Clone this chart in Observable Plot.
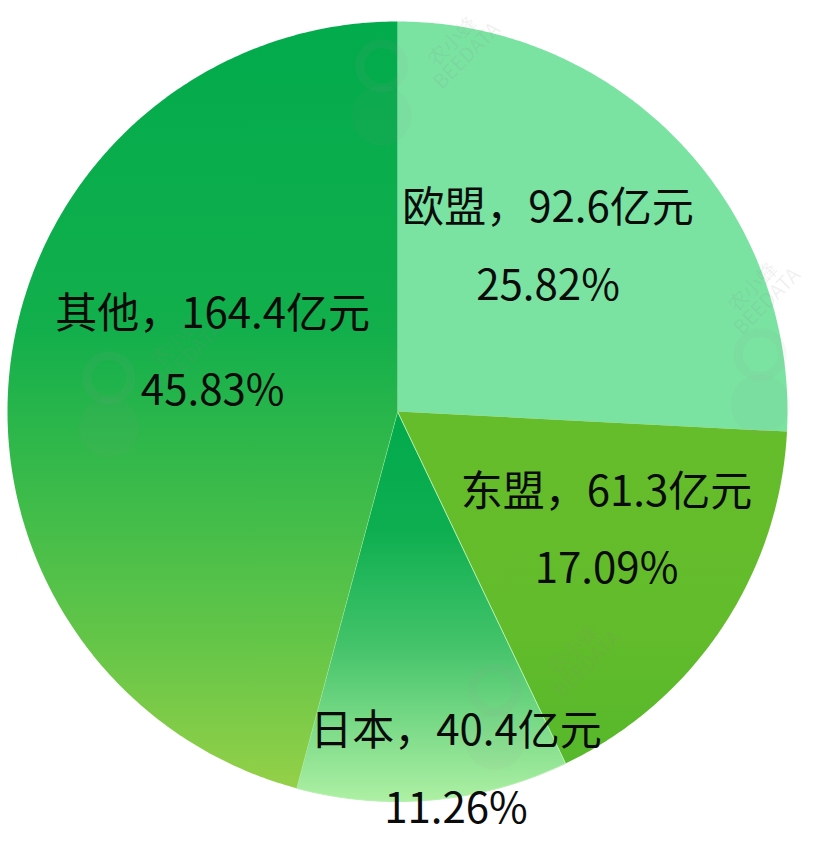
<!DOCTYPE html>
<html><head><meta charset="utf-8">
<script src="https://cdn.jsdelivr.net/npm/d3@7"></script>
<script src="https://cdn.jsdelivr.net/npm/@observablehq/plot@0.6"></script>
<style>html,body{margin:0;padding:0;background:#fff}svg{display:block}</style>
</head><body><div id="chart"></div>
<script>
const regions = ["欧盟", "东盟", "日本", "其他"];
const amounts = [92.6, 61.3, 40.4, 164.4];
const shares = [25.82, 17.09, 11.26, 45.83];
// label centres in pie-radius units (x right, y up)
const labelX = [0.386, 0.536, 0.15, -0.474];
const labelY = [0.449, -0.277, -0.892, 0.179];
const edgeColors = ["none", "none", "#b5f0b0", "none"];
const gradients = [
  [[0, "#7ae3a2"], [1, "#7ae3a2"]],
  [[0, "#66bd2c"], [0.6, "#63bc2b"], [1, "#56b82b"]],
  [[0, "#02aa4c"], [0.3, "#0dae50"], [0.6, "#44c36a"], [1, "#aef0a4"]],
  [[0, "#02ab4c"], [0.4, "#12af4c"], [0.6, "#39ba4a"], [0.8, "#62c548"], [1, "#94d048"]]
];
const bees = [[-0.04, 0.83], [-0.74, 0.03], [0.93, 0.09], [0.25, -0.77]];
const stamps = [[0.16, 0.93], [-0.55, 0.16], [0.93, 0.3], [0.47, -0.63]];

const W = 814, H = 848, cx = 397, cy = 411, R = 390;

let start = 0;
const total = d3.sum(shares);
const slices = regions.map((name, i) => {
  const a0 = start / total * 2 * Math.PI;
  start += shares[i];
  const a1 = start / total * 2 * Math.PI;
  const n = Math.ceil((a1 - a0) / 0.01);
  const points = [{x: 0, y: 0}];
  for (let k = 0; k <= n; k++) {
    const a = a0 + (a1 - a0) * k / n;
    points.push({x: Math.sin(a), y: Math.cos(a)});
  }
  points.push({x: 0, y: 0});
  return {name, i, points};
});
const labels = regions.map((name, i) => ({
  x: labelX[i], y: labelY[i],
  text: `${name}，${amounts[i]}亿元\n${shares[i].toFixed(2)}%`
}));

const defs = () => {
  const ns = "http://www.w3.org/2000/svg";
  const d = document.createElementNS(ns, "defs");
  gradients.forEach((stops, i) => {
    const g = document.createElementNS(ns, "linearGradient");
    g.setAttribute("id", "grad" + i);
    g.setAttribute("x1", 0); g.setAttribute("x2", 0);
    g.setAttribute("y1", 0); g.setAttribute("y2", 1);
    stops.forEach(([o, c]) => {
      const s = document.createElementNS(ns, "stop");
      s.setAttribute("offset", o); s.setAttribute("stop-color", c);
      g.appendChild(s);
    });
    d.appendChild(g);
  });
  return d;
};

const cjk = "'Noto Sans CJK SC','Noto Sans',sans-serif";
const chart = Plot.plot({
  width: W, height: H,
  margin: 0,
  x: {domain: [-cx / R, (W - cx) / R], axis: null},
  y: {domain: [-(H - cy) / R, cy / R], axis: null},
  style: {background: "#fff"},
  marks: [
    defs,
    ...slices.map(s => Plot.line(s.points, {
      x: "x", y: "y", curve: "linear",
      fill: `url(#grad${s.i})`,
      stroke: edgeColors[s.i], strokeWidth: 1
    })),
    Plot.dot(bees, {x: d => d[0], y: d => d[1], dy: -22, r: 22, stroke: "#9a9a9a", strokeWidth: 9, strokeOpacity: 0.08, fill: "none"}),
    Plot.dot(bees, {x: d => d[0], y: d => d[1], dy: 28, r: 30, fill: "#9a9a9a", fillOpacity: 0.06}),
    Plot.text(stamps, {
      x: d => d[0], y: d => d[1], text: () => "农小蜂\nBEEDATA",
      rotate: -45, fontFamily: cjk, fontSize: 20, fill: "#8a8a8a", fillOpacity: 0.13
    }),
    Plot.text(labels, {
      x: "x", y: "y", text: "text",
      fontFamily: cjk,
      fontSize: 42, lineHeight: 1.85, fill: "#0b0b0b", textAnchor: "middle"
    })
  ]
});
document.getElementById("chart").appendChild(chart);
</script></body></html>
